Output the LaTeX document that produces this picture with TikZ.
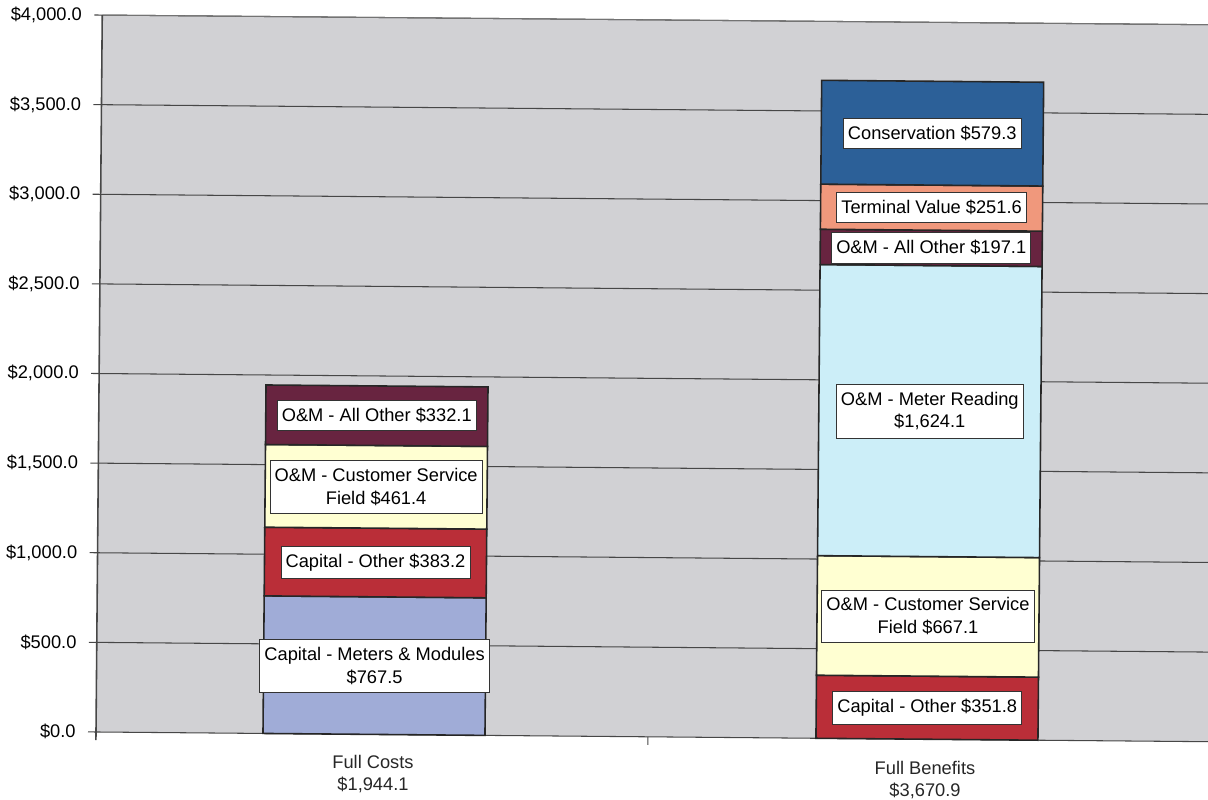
\documentclass[tikz,border=0pt]{standalone}
\usepackage{fontspec}
\setmainfont{Liberation Sans}
\usetikzlibrary{positioning}
\definecolor{plotbg}{RGB}{209,209,212}
\definecolor{meterblue}{RGB}{160,172,215}
\definecolor{capred}{RGB}{186,46,56}
\definecolor{custyellow}{RGB}{255,255,210}
\definecolor{allmaroon}{RGB}{104,36,64}
\definecolor{readcyan}{RGB}{204,238,248}
\definecolor{termsalmon}{RGB}{240,152,124}
\definecolor{consblue}{RGB}{44,96,152}
\tikzset{chartfont/.style={font=\fontsize{10.4}{13}\selectfont}}
\tikzset{seglabel/.style={chartfont, draw=black!80, line width=0.5pt, fill=white, inner xsep=2.6pt, inner ysep=4.4pt, align=center}}
\tikzset{segbox/.style={draw=black!85, line width=0.9pt}}
\tikzset{gridln/.style={draw=black!72, line width=0.6pt}}
\tikzset{ticklbl/.style={chartfont, anchor=east, inner sep=0pt}}
\tikzset{catlbl/.style={chartfont, align=center, inner sep=0pt, text=black!85}}

\begin{document}
\begin{tikzpicture}[x=0.02cm, y=0.02cm]
\useasboundingbox (0,0) rectangle (1208,800);
\begin{scope}[shift={(96,68)}, y=0.003584cm, rotate=-0.5]
	% plot area and grid
	\fill[plotbg] (0,0) rectangle (1130,4000);
	\foreach \v/\t in {0/{\$0.0},500/{\$500.0},1000/{\$1,000.0},1500/{\$1,500.0},2000/{\$2,000.0},2500/{\$2,500.0},3000/{\$3,000.0},3500/{\$3,500.0},4000/{\$4,000.0}} {
		\draw[gridln] (-8,\v) -- (1130,\v);
		\node[ticklbl] (tick\v) at (-20,\v) {\t};
	}
	\draw[gridln, draw=black!55] (0,4000) -- (1130,4000);
	\draw[gridln, line width=0.9pt] (0,-45) -- (0,4000);
	\draw[gridln] (552,0) -- (552,-45);
	%
	% Full Costs bar
	\foreach \name/\lo/\hi/\col/\txt in {
		cmeters/0/767.5/meterblue/{Capital - Meters \& Modules\\\$767.5},
		cother/767.5/1150.7/capred/{Capital - Other \$383.2},
		ccust/1150.7/1612.1/custyellow/{O\&M - Customer Service\\Field \$461.4},
		call/1612.1/1944.2/allmaroon/{O\&M - All Other \$332.1}} {
		\draw[segbox, fill=\col] (167,\lo) rectangle (389,\hi);
		\node[seglabel] (\name) at (278,{(\lo+\hi)/2}) {\txt};
	}
	% Full Benefits bar
	\foreach \name/\lo/\hi/\col/\txt in {
		bother/0/351.8/capred/{Capital - Other \$351.8},
		bcust/351.8/1018.9/custyellow/{O\&M - Customer Service\\Field \$667.1},
		bread/1018.9/2643.0/readcyan/{O\&M - Meter Reading\\\$1,624.1},
		ball/2643.0/2840.1/allmaroon/{O\&M - All Other \$197.1},
		bterm/2840.1/3091.7/termsalmon/{Terminal Value \$251.6},
		bcons/3091.7/3671.0/consblue/{Conservation \$579.3}} {
		\draw[segbox, fill=\col] (720,\lo) rectangle (942,\hi);
		\node[seglabel] (\name) at (831,{(\lo+\hi)/2}) {\txt};
	}
\end{scope}
\node[catlbl] (costs) at (373,26) {Full Costs\\\$1,944.1};
\node[catlbl] (benefits) at (925,20) {Full Benefits\\\$3,670.9};
\end{tikzpicture}
\end{document}
